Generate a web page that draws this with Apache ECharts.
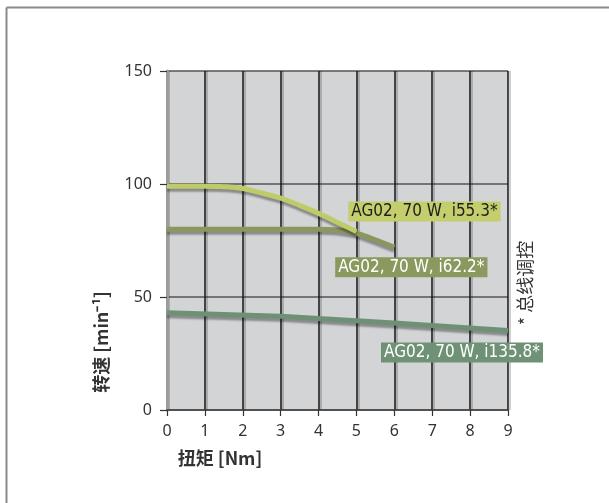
<!DOCTYPE html>
<html>
<head>
<meta charset="utf-8">
<script src="https://cdn.jsdelivr.net/npm/echarts@6/dist/echarts.min.js"></script>
<style>
html,body{margin:0;padding:0;background:#fff;}
#c{width:609px;height:503px;}
</style>
</head>
<body>
<div id="c"></div>
<script>
// Data
const xTicks = [0,1,2,3,4,5,6,7,8,9];
const yTicks = [0,50,100,150];

const torqueA = [0, 1, 1.5, 2, 2.5, 3, 3.5, 4, 4.5, 5];
const speedA  = [99, 99, 98.8, 98, 96, 93.7, 90.5, 87, 83, 79];
const nameA = 'AG02, 70 W, i55.3*';

const torqueB = [0, 1, 2, 3, 4, 4.5, 5, 5.5, 6];
const speedB  = [80, 80, 80, 80, 80, 79.6, 78.2, 75.3, 72];
const nameB = 'AG02, 70 W, i62.2*';

const torqueC = [0, 3, 6, 9];
const speedC  = [43, 41.5, 38.5, 35.2];
const nameC = 'AG02, 70 W, i135.8*';

const xName = '扭矩 [Nm]';
const yName = '转速 [min⁻¹]';
const note = '* 总线调控';

const colA = '#bfcb68', bgA = '#c4ce6c';
const colB = '#8a9860', bgB = '#8a9a5e';
const colC = '#6e9176', bgC = '#6f9277';

function pairs(xs, ys){ return xs.map((x,i)=>[x, ys[i]]); }
function lastPt(xs, ys){ return [xs[xs.length-1], ys[ys.length-1]]; }

const labelFont = '"Liberation Sans Narrow","DejaVu Sans Condensed",sans-serif';

function mkSeries(name, xs, ys, col, bg, txtCol, offset, smooth){
  return {
    name: name,
    type: 'line',
    data: pairs(xs, ys),
    smooth: smooth,
    showSymbol: false,
    symbol: 'none',
    lineStyle: {color: col, width: 5, shadowColor: 'rgba(0,0,0,0.35)', shadowBlur: 2, shadowOffsetY: 3},
    z: 5,
    markPoint: {
      symbol: 'rect', symbolSize: 0.01, silent: true,
      data: [{coord: lastPt(xs, ys), value: name}],
      label: {
        show: true, position: 'inside', offset: offset,
        formatter: name,
        color: txtCol, backgroundColor: bg,
        fontFamily: labelFont, fontSize: 17,
        padding: [2, 3, 1, 3]
      }
    }
  };
}

const chart = echarts.init(document.getElementById('c'), null, {renderer: 'canvas'});
chart.setOption({
  animation: false,
  backgroundColor: '#ffffff',
  grid: {left: 167, right: 101, top: 71, bottom: 93, show: true, backgroundColor: '#d3d4d6', borderWidth: 0},
  xAxis: {
    type: 'value', min: 0, max: 9, interval: 1,
    axisLine: {show: true, onZero: false, lineStyle: {color: '#444', width: 1.5}},
    axisTick: {show: true, length: 6, lineStyle: {color: '#333', width: 1.2}},
    axisLabel: {color: '#333', fontSize: 16, fontFamily: '"Noto Sans",sans-serif', margin: 13,
      formatter: v => xTicks.includes(v) ? String(v) : ''},
    splitLine: {show: true, lineStyle: {color: '#151515', width: 1.5, shadowColor: 'rgba(0,0,0,0.25)', shadowOffsetX: 2}}
  },
  yAxis: {
    type: 'value', min: 0, max: 150, interval: 50,
    axisLine: {show: true, onZero: false, lineStyle: {color: '#9c9c9c', width: 3}},
    axisTick: {show: true, length: 7, lineStyle: {color: '#333', width: 1.2}},
    axisLabel: {color: '#333', fontSize: 16, fontFamily: '"Noto Sans",sans-serif', margin: 15,
      formatter: v => yTicks.includes(v) ? String(v) : ''},
    splitLine: {show: true, lineStyle: {color: '#555', width: 1.5}}
  },
  series: [
    mkSeries(nameC, torqueC, speedC, colC, bgC, '#ffffff', [-46, 22], false),
    mkSeries(nameB, torqueB, speedB, colB, bgB, '#ffffff', [17, 20], 0.3),
    mkSeries(nameA, torqueA, speedA, colA, bgA, '#1e1e1e', [68, -20], 0.4)
  ],
  graphic: [
    {type: 'line', shape: {x1: 6.5, y1: 7.5, x2: 609, y2: 7.5}, style: {stroke: '#8a8a8a', lineWidth: 2}},
    {type: 'line', shape: {x1: 6.5, y1: 7.5, x2: 6.5, y2: 503}, style: {stroke: '#8a8a8a', lineWidth: 2}},
    {type: 'text', x: 101, y: 342, rotation: Math.PI/2,
      style: {text: yName, fill: '#333', font: 'bold 18px "Noto Sans CJK SC",sans-serif', align: 'center', verticalAlign: 'middle'}},
    {type: 'text', x: 220, y: 458,
      style: {text: xName, fill: '#333', font: 'bold 18px "Noto Sans CJK SC",sans-serif', align: 'center', verticalAlign: 'middle'}},
    {type: 'text', x: 525, y: 283, rotation: Math.PI/2,
      style: {text: note, fill: '#333', font: '18px "Noto Sans CJK SC",sans-serif', align: 'center', verticalAlign: 'middle'}}
  ]
});
</script>
</body>
</html>
